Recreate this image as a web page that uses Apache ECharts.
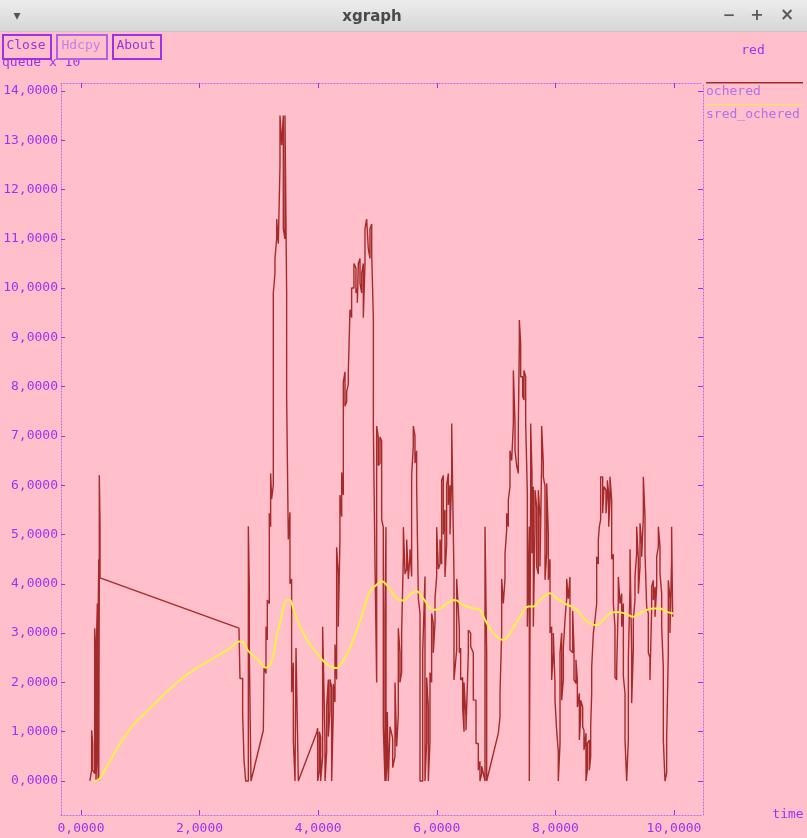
<!DOCTYPE html>
<html>
<head>
<meta charset="utf-8">
<script src="https://cdn.jsdelivr.net/npm/echarts@6/dist/echarts.min.js"></script>
<style>
html,body{margin:0;padding:0;background:#ffc0cb;}
#chart{width:807px;height:838px;}
</style>
</head>
<body>
<div id="chart"></div>
<script>
// ---- tick values ----
const xTicks = [0, 2, 4, 6, 8, 10];
const yTicks = [0, 1, 2, 3, 4, 5, 6, 7, 8, 9, 10, 11, 12, 13, 14];
const seriesNames = ['ochered', 'sred_ochered'];

// ---- ochered: vertical excursions [time, from, to] ----
const ocheredStart = [
  [0.15,0,0],[0.180,0.22,1.03],[0.197,0.76,0.22],[0.231,0.15,3.1],[0.253,2.32,0],
  [0.262,0.4,2.9],[0.276,0.83,3.6],[0.292,3.6,0],[0.300,0,4.5],[0.309,4.1,6.2],[0.321,5.2,4.12],
  [2.664,3.1,3.1],[2.681,3.1,2.08],[2.726,2.08,1.37],[2.749,1.37,0.43],[2.777,0.43,0],
  [2.822,0,5.17],[2.839,3.87,2.59],[2.867,0,0]
];
const ocheredPeak1 = [
  [3.075,1.03,1.03],[3.086,1.03,2.32],[3.12,2.18,3.13],[3.142,2.86,3.67],[3.176,3.6,5.43],
  [3.198,5.16,6.24],[3.215,5.72,6.26],[3.243,6.0,9.9],[3.271,10.3,10.6],[3.30,11.0,11.4],
  [3.328,10.9,11.4],[3.356,12.5,13.5],[3.384,12.9,13.5],[3.412,11.2,13.5],[3.44,11.0,13.5],
  [3.468,9.9,7.8],[3.496,7.8,4.9],[3.524,5.45,4.0],[3.552,4.1,1.8],[3.581,2.4,0.8],
  [3.609,0.8,0],[3.626,0,2.7],[3.665,0,0]
];
const ocheredPeak2 = [
  [3.974,0.98,0.98],[3.991,0,1.07],[4.019,0.2,1.0],[4.041,0,0.9],[4.075,0.5,3.13],
  [4.115,0,0.8],[4.143,0.6,1.5],[4.171,0.9,2.06],[4.199,1.43,2.06],[4.227,0,1.9],
  [4.255,1.43,1.97],[4.283,1.6,2.77],[4.311,2.06,4.74],[4.339,3.13,4.2],[4.367,4.9,5.8],
  [4.396,5.36,6.26],[4.424,5.8,8.1],[4.452,7.6,8.3],[4.48,7.7,7.9],[4.508,8.05,8.3],
  [4.536,8.3,9.56],[4.564,9.4,10.0],[4.603,10.0,10.5],[4.637,9.9,10.4],[4.66,9.7,10.0],
  [4.677,9.7,10.5],[4.705,10.1,10.6],[4.733,9.9,10.3],[4.761,9.4,10.5],[4.789,10.5,11.2],
  [4.817,11.2,11.4],[4.845,10.8,11.4],[4.873,10.6,11.2],[4.902,10.7,11.3],[4.930,9.4,7.2],
  [4.958,7.2,4.4],[4.986,2.0,7.2],[5.014,6.4,6.97],[5.042,6.45,6.98],[5.07,5.3,6.9],
  [5.098,5.15,1.1],[5.126,0,3.4],[5.143,0,5.15],[5.166,0.5,1.4],[5.183,0,0]
];
const ocheredMid = [
  [5.211,0,1.1],[5.256,0.27,0.87],[5.295,0.5,2.0],[5.323,0.7,2.0],[5.351,1.34,3.1],
  [5.379,2.0,2.6],[5.407,2.2,3.0],[5.436,4.54,5.15],[5.464,4.2,5.15],[5.492,4.3,4.9],
  [5.52,4.1,4.9],[5.548,4.6,4.7],[5.576,4.15,6.2],[5.604,6.8,7.2],[5.632,6.45,7.0],
  [5.66,5.99,6.7],[5.689,3.7,6.0],[5.717,0,3.4],[5.762,0,2.6],[5.801,0,4.15],
  [5.829,0.8,2.1],[5.857,0,1.5],[5.885,0.8,2.2],[5.913,2.0,3.4],[5.941,2.6,3.2],
  [5.970,3.2,3.7],[5.998,4.15,5.15],[6.026,4.3,5.15],[6.054,4.4,4.9],[6.082,4.4,6.1],
  [6.110,5.0,6.2],[6.138,4.14,5.5],[6.166,4.8,6.0],[6.195,5.6,6.24],[6.223,5.0,6.0],
  [6.251,6.2,7.25],[6.279,5.0,7.25],[6.29,4.14,2.05],[6.335,2.66,4.1],[6.38,2.6,3.1],
  [6.402,2.05,2.7],[6.436,1.5,2.1],[6.459,1.0,2.0],[6.492,1.03,1.3],[6.532,2.6,3.06],
  [6.571,2.73,3.0],[6.616,1.64,2.6],[6.661,0.76,1.64],[6.700,0.22,0.76],[6.728,0,0.4],
  [6.757,0.15,0.3],[6.813,0,5.16],[6.841,0,2.6],[6.869,0,0]
];
const ocheredPeak3 = [
  [7.038,0.97,0.97],[7.066,1.3,1.78],[7.094,3.0,4.1],[7.122,3.6,4.1],[7.15,4.1,4.6],
  [7.178,5.09,5.43],[7.206,5.16,5.7],[7.234,5.97,6.7],[7.263,6.5,6.7],[7.291,7.25,8.33],
  [7.319,6.7,7.25],[7.347,6.4,6.7],[7.375,6.24,7.2],[7.392,8.88,9.35],[7.414,8.2,8.88],
  [7.448,7.8,8.2],[7.47,7.73,8.33],[7.499,7.25,8.2],[7.527,3.13,5.83],[7.56,0,5.16],
  [7.583,5.77,7.25],[7.605,4.62,6.24],[7.628,3.13,5.97],[7.656,5.16,5.9],[7.684,4.35,5.56],
  [7.712,4.2,5.9],[7.74,4.35,5.36],[7.768,6.44,7.2],[7.797,6.17,6.44],[7.825,4.08,5.97],
  [7.853,4.62,6.04],[7.881,4.08,5.02],[7.909,3.0,4.5],[7.937,2.05,3.13],[7.965,2.6,3.0],
  [7.993,1.64,1.98],[8.021,1.03,1.64],[8.049,0,0.6],[8.078,0.76,2.6],[8.106,1.64,3.0],
  [8.134,2.05,2.7],[8.162,2.7,3.27],[8.19,3.7,4.1],[8.218,3.7,4.08]
];
const ocheredEnd = [
  [8.246,2.66,4.14],[8.291,2.6,3.45],[8.314,2.05,2.66],[8.347,1.98,2.46],[8.37,1.5,2.05],
  [8.404,0.83,1.78],[8.426,1.3,1.64],[8.46,1.1,1.5],[8.482,0.63,1.03],[8.516,0,0.97],
  [8.539,0.22,0.76],[8.572,0.22,0.83],[8.595,0.49,1.1],[8.612,1.78,2.3],[8.64,2.3,3.0],
  [8.668,3.0,3.27],[8.696,3.6,4.55],[8.724,4.4,4.9],[8.741,4.9,5.16],[8.763,5.3,6.17],
  [8.797,5.43,6.17],[8.82,5.43,5.97],[8.853,5.43,5.9],[8.876,5.77,6.1],[8.898,5.16,5.83],
  [8.921,5.7,6.17],[8.949,4.5,5.7],[8.977,3.6,4.6],[9.005,2.1,3.13],[9.033,2.05,2.25],
  [9.061,3.67,4.14],[9.09,3.6,4.14],[9.118,3.13,3.8],[9.146,2.12,3.6],[9.174,0.83,1.78],
  [9.202,0,0.83],[9.23,0.83,2.46],[9.258,3.94,4.7],[9.286,1.58,2.6],[9.314,2.66,3.27],
  [9.342,3.67,4.14],[9.37,4.6,5.16],[9.399,3.8,4.5],[9.427,4.35,5.23],[9.455,4.55,4.8],
  [9.483,5.36,6.17],[9.511,4.62,5.36],[9.539,3.53,4.62],[9.567,2.6,3.4],[9.595,2.05,2.5],
  [9.623,3.5,3.94],[9.651,3.67,4.07],[9.68,3.33,3.94],[9.708,3.94,4.55],[9.736,4.75,5.16],
  [9.764,4.21,4.75],[9.792,3.13,3.8],[9.82,0.83,2.3],[9.848,0,0.83],[9.876,0.16,0.83],
  [9.904,2.6,4.07],[9.932,3.0,3.7],[9.96,4.5,5.16],[9.977,5.16,3.33]
];

// ---- sred_ochered: smoothed queue [time, value] ----
const sredOchered = [
  [0.208,0],[0.29,0.02],[0.433,0.29],[0.658,0.76],[0.882,1.14],[1.107,1.41],[1.388,1.74],
  [1.67,2.05],[1.95,2.29],[2.23,2.49],[2.51,2.69],[2.67,2.83],[2.74,2.81],[2.82,2.64],
  [3.02,2.42],[3.103,2.30],[3.159,2.31],[3.243,2.55],[3.30,2.95],[3.356,3.2],[3.412,3.5],
  [3.468,3.67],[3.524,3.67],[3.581,3.49],[3.693,3.13],[3.862,2.77],[3.974,2.6],[4.143,2.37],
  [4.311,2.29],[4.424,2.45],[4.536,2.7],[4.705,3.24],[4.873,3.85],[4.986,3.98],[5.07,4.05],
  [5.211,3.89],[5.323,3.7],[5.436,3.66],[5.548,3.78],[5.66,3.85],[5.773,3.70],[5.941,3.47],
  [6.054,3.5],[6.166,3.6],[6.307,3.67],[6.447,3.57],[6.616,3.5],[6.728,3.47],[6.813,3.27],
  [6.953,3.0],[7.122,2.86],[7.234,3.0],[7.403,3.33],[7.544,3.54],[7.628,3.54],[7.74,3.67],
  [7.909,3.81],[8.021,3.71],[8.162,3.6],[8.302,3.52],[8.386,3.45],[8.499,3.27],[8.696,3.16],
  [8.808,3.27],[8.921,3.40],[9.033,3.43],[9.174,3.40],[9.314,3.33],[9.37,3.37],[9.539,3.47],
  [9.651,3.5],[9.764,3.5],[9.876,3.43],[9.988,3.40]
];

// Build the ochered polyline: each excursion is traversed starting from the end nearest the previous value
function buildPath(bars) {
  const pts = [];
  let prev = null;
  bars.forEach(function (b) {
    let first = b[1], second = b[2];
    if (prev !== null && Math.abs(prev - second) < Math.abs(prev - first)) {
      first = b[2]; second = b[1];
    }
    pts.push([b[0], first]);
    if (second !== first) pts.push([b[0], second]);
    prev = second;
  });
  return pts;
}
const ocheredData = buildPath([].concat(ocheredStart, ocheredPeak1, ocheredPeak2, ocheredMid, ocheredPeak3, ocheredEnd));

const PURPLE = '#a030f0';
const BORDER = '#b468f0';
const MONO = '"DejaVu Sans Mono", "Liberation Mono", monospace';
const fmt = function (v) { return v.toFixed(4).replace('.', ','); };

const X_MIN = -0.337, X_MAX = 10.489;
const Y_MIN = -0.69, Y_MAX = 14.16;

function axisLine() {
  return { show: true, onZero: false, lineStyle: { color: BORDER, width: 1, type: [1, 2] } };
}

const chart = echarts.init(document.getElementById('chart'), null, { renderer: 'canvas' });

const option = {
  animation: false,
  backgroundColor: '#ffc0cb',
  grid: { left: 61, right: 104, top: 83, bottom: 23, containLabel: false },
  xAxis: [
    {
      type: 'value', min: X_MIN, max: X_MAX, position: 'bottom',
      axisLine: axisLine(),
      axisTick: { show: true, inside: true, length: 5, customValues: xTicks, lineStyle: { color: PURPLE } },
      axisLabel: { show: true, customValues: xTicks, formatter: fmt, color: PURPLE, fontFamily: MONO, fontSize: 13, margin: 7 },
      splitLine: { show: false }
    },
    {
      type: 'value', min: X_MIN, max: X_MAX, position: 'top',
      axisLine: axisLine(),
      axisTick: { show: true, inside: true, length: 5, customValues: xTicks, lineStyle: { color: PURPLE } },
      axisLabel: { show: false },
      splitLine: { show: false }
    }
  ],
  yAxis: [
    {
      type: 'value', min: Y_MIN, max: Y_MAX, position: 'left',
      axisLine: axisLine(),
      axisTick: { show: true, inside: true, length: 4, customValues: yTicks, lineStyle: { color: PURPLE } },
      axisLabel: { show: true, customValues: yTicks, formatter: fmt, color: PURPLE, fontFamily: MONO, fontSize: 13, margin: 3 },
      splitLine: { show: false }
    },
    {
      type: 'value', min: Y_MIN, max: Y_MAX, position: 'right',
      axisLine: axisLine(),
      axisTick: { show: true, inside: true, length: 5, customValues: yTicks, lineStyle: { color: PURPLE } },
      axisLabel: { show: false },
      splitLine: { show: false }
    }
  ],
  series: [
    {
      name: seriesNames[0], type: 'line', xAxisIndex: 0, yAxisIndex: 0,
      data: ocheredData, showSymbol: false, symbol: 'none', sampling: null,
      lineStyle: { color: '#a52a2a', width: 1.4 }, z: 2
    },
    {
      name: seriesNames[1], type: 'line', xAxisIndex: 0, yAxisIndex: 0,
      data: sredOchered, showSymbol: false, symbol: 'none', smooth: 0.35,
      lineStyle: { color: '#fff04a', width: 2 }, z: 3
    }
  ],
  graphic: [
    // window title bar
    { type: 'rect', left: 0, top: 0, shape: { width: 807, height: 32 },
      style: { fill: new echarts.graphic.LinearGradient(0, 0, 0, 1, [{ offset: 0, color: '#ededed' }, { offset: 1, color: '#d5d5d5' }]) }, z: 10 },
    { type: 'rect', left: 0, top: 31, shape: { width: 807, height: 1 }, style: { fill: '#c4c4c4' }, z: 10 },
    { type: 'text', x: 372, y: 17, style: { text: 'xgraph', fill: '#4a4a4a', font: 'bold 15px "DejaVu Sans", sans-serif', align: 'center', verticalAlign: 'middle' }, z: 11 },
    { type: 'text', x: 17, y: 16, style: { text: '▾', fill: '#555555', font: '14px "DejaVu Sans", sans-serif', align: 'center', verticalAlign: 'middle' }, z: 11 },
    { type: 'text', x: 729, y: 16, style: { text: '−', fill: '#5a5a5a', font: 'bold 15px "DejaVu Sans", sans-serif', align: 'center', verticalAlign: 'middle' }, z: 11 },
    { type: 'text', x: 757, y: 16, style: { text: '+', fill: '#5a5a5a', font: 'bold 16px "DejaVu Sans", sans-serif', align: 'center', verticalAlign: 'middle' }, z: 11 },
    { type: 'text', x: 787, y: 16, style: { text: '×', fill: '#5a5a5a', font: 'bold 17px "DejaVu Sans", sans-serif', align: 'center', verticalAlign: 'middle' }, z: 11 },
    // y axis caption (partly hidden under buttons)
    { type: 'text', x: 2, y: 63, style: { text: 'queue x 10⁻', fill: PURPLE, font: '13px ' + MONO, align: 'left', verticalAlign: 'middle' }, z: 5 },
    { type: 'rect', left: 0, top: 32, shape: { width: 170, height: 27 }, style: { fill: '#ffc0cb' }, z: 6 },
    // buttons
    { type: 'rect', left: 2, top: 34, shape: { width: 48, height: 24 }, style: { fill: '#ffc0cb', stroke: '#a030e0', lineWidth: 2 }, z: 7 },
    { type: 'text', x: 26, y: 46, style: { text: 'Close', fill: '#9a30e0', font: '13px ' + MONO, align: 'center', verticalAlign: 'middle' }, z: 8 },
    { type: 'rect', left: 56, top: 34, shape: { width: 50, height: 24 }, style: { fill: '#ffc0cb', stroke: '#b060e8', lineWidth: 2 }, z: 7 },
    { type: 'text', x: 81, y: 46, style: { text: 'Hdcpy', fill: '#c080ec', font: '13px ' + MONO, align: 'center', verticalAlign: 'middle' }, z: 8 },
    { type: 'rect', left: 112, top: 34, shape: { width: 48, height: 24 }, style: { fill: '#ffc0cb', stroke: '#a030e0', lineWidth: 2 }, z: 7 },
    { type: 'text', x: 136, y: 46, style: { text: 'About', fill: '#9a30e0', font: '13px ' + MONO, align: 'center', verticalAlign: 'middle' }, z: 8 },
    // graph title
    { type: 'text', x: 753, y: 51, style: { text: 'red', fill: PURPLE, font: '13px ' + MONO, align: 'center', verticalAlign: 'middle' }, z: 5 },
    // legend
    { type: 'rect', left: 706, top: 82, shape: { width: 97, height: 1.5 }, style: { fill: '#a52a2a' }, z: 5 },
    { type: 'text', x: 706, y: 92, style: { text: seriesNames[0], fill: '#b070ec', font: '13px ' + MONO, align: 'left', verticalAlign: 'middle' }, z: 5 },
    { type: 'rect', left: 706, top: 104, shape: { width: 97, height: 1.5 }, style: { fill: '#ffe070' }, z: 5 },
    { type: 'text', x: 706, y: 115, style: { text: seriesNames[1], fill: '#b070ec', font: '13px ' + MONO, align: 'left', verticalAlign: 'middle' }, z: 5 },
    // x axis caption
    { type: 'text', x: 788, y: 815, style: { text: 'time', fill: PURPLE, font: '13px ' + MONO, align: 'center', verticalAlign: 'middle' }, z: 5 }
  ]
};
chart.setOption(option);
</script>
</body>
</html>
